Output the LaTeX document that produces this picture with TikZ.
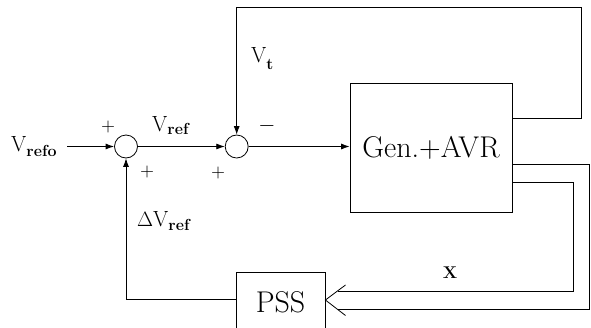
\documentclass[tikz,border=0pt]{standalone}
\usetikzlibrary{arrows.meta}
\newcommand{\subtxt}[2][5pt]{\raisebox{-#1}{\fontsize{16}{18}\selectfont\bfseries #2}}
\begin{document}
\begin{tikzpicture}[x=1pt,y=-1pt,
  sumnode/.style={circle,draw,line width=0.8pt,minimum size=23pt,inner sep=0pt},
  blk/.style={draw,rectangle,line width=0.8pt,inner sep=0pt},
  sig/.style={line width=0.8pt},
  tip/.style={-{Latex[length=8.5pt,width=6pt]}},
  lbl/.style={font=\fontsize{22}{24}\selectfont,inner sep=0pt,anchor=base west},
  sgn/.style={inner sep=0pt}]
\useasboundingbox (0,0) rectangle (591,327);
% blocks
\node[sumnode] (sum1) at (126,146.5) {};
\node[sumnode] (sum2) at (236.7,146.5) {};
\node[blk,minimum width=162pt,minimum height=129pt,font=\fontsize{30}{32}\selectfont] (gen) at (431,147.8) {Gen.+AVR};
\node[blk,minimum width=89pt,minimum height=59pt,font=\fontsize{30}{32}\selectfont] (pss) at (280.5,302) {PSS};
\coordinate (in) at (67,146.5);
% forward path
\draw[sig,tip] (in) -- (sum1);
\draw[sig,tip] (sum1) -- (sum2);
\draw[sig,tip] (sum2.east) -- (sum2.east -| gen.west);
% Vt feedback
\draw[sig,tip] ([yshift=29.5pt]gen.east) -| (581.7,7.3) -| (sum2.north);
% PSS feedback
\draw[sig,tip] ([yshift=2.5pt]pss.west) -| (sum1.south);
% wide signal X
\draw[sig] ([yshift=-16.2pt]gen.east) -- (589.5,164) -- (589.5,309.3) -- (338,309.3);
\draw[sig] ([yshift=-34.9pt]gen.east) -- (573.3,182.7) -- (573.3,291) -- (338,291);
\draw[sig] (345.5,285) -- ([yshift=2pt]pss.east) -- (345.5,315.5);
% labels
\node[lbl] (lVrefo) at (11,151) {V\subtxt{refo}};
\node[lbl] (lVref) at (152,131.5) {V\subtxt[3pt]{ref}};
\node[lbl] (lVt) at (251,62) {V\subtxt[7pt]{t}};
\node[lbl] (ldV) at (137,226.5) {$\Delta$V\subtxt[4pt]{ref}};
\node[font=\fontsize{17}{18}\selectfont\bfseries,inner sep=0pt] (lX) at (450,273) {X};
\node[sgn] (p1) at (108,127) {\scalebox{1.8}{$+$}};
\node[sgn] (p2) at (147,172) {\scalebox{1.8}{$+$}};
\node[sgn] (p3) at (218,173) {\scalebox{1.8}{$+$}};
\node[sgn] (m1) at (267,126) {\scalebox{2.2}{$-$}};
\end{tikzpicture}
\end{document}
